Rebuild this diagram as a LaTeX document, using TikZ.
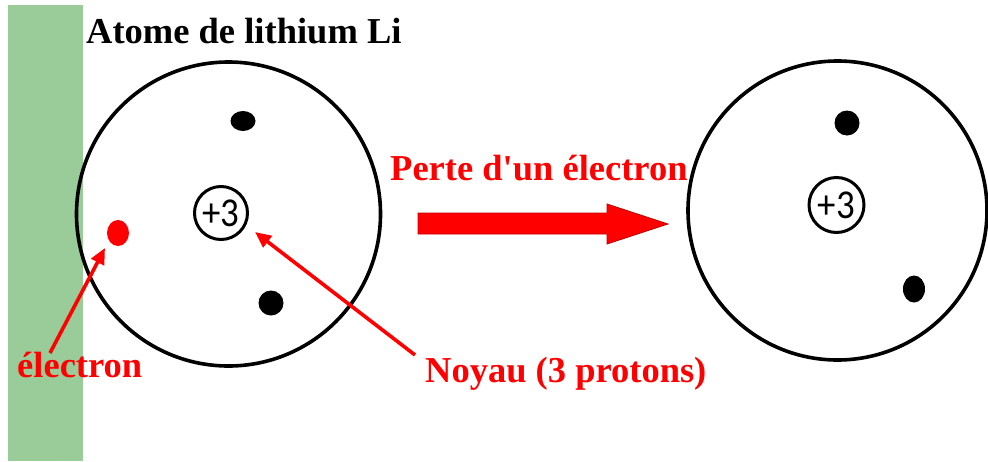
\documentclass[tikz,border=0pt]{standalone}
\usepackage{fontspec}
\setmainfont{Liberation Serif}
\newfontfamily\calfont{Carlito}
\usetikzlibrary{arrows.meta}
\definecolor{bandgreen}{RGB}{153,204,153}
\definecolor{arrowedge}{RGB}{190,0,0}
\tikzset{
  orbit/.style={draw=black, line width=3.6pt, circle, inner sep=0pt},
  nucleus/.style={draw=black, line width=3pt, circle, inner sep=0pt, fill=white, font=\calfont\fontsize{41}{43}\selectfont},
  electronblack/.style={fill=black},
  lbl/.style={font=\bfseries\fontsize{36.5}{40}\selectfont, inner sep=0pt, anchor=base west},
  pointer/.style={draw=red, line width=3.6pt, -{Triangle[length=16pt,width=14pt]}},
}
\begin{document}
\begin{tikzpicture}[x=1pt,y=-1pt]
\useasboundingbox (0,0) rectangle (988,461);
% green band
\fill[bandgreen] (8,5) rectangle (83,461);
% title
\node[lbl, text=black] (title) at (86,43) {Atome de lithium Li};
% left atom
\node[orbit, minimum size=304pt] (atomA) at (228.5,214) {};
\node[nucleus, minimum size=53pt] (nucA) at (221,213) {\scalebox{0.9}[1]{+3}};
\fill[electronblack] (243,121) ellipse [x radius=12.5, y radius=10];
\fill[electronblack] (271,303) circle [radius=12.5];
\fill[red] (118,233) ellipse [x radius=11, y radius=13];
\coordinate (redel) at (118,233);
% right atom
\node[orbit, minimum size=299pt] (atomB) at (837.5,210.5) {};
\node[nucleus, minimum size=55pt] (nucB) at (836.5,205) {\scalebox{0.9}[1]{+3}};
\fill[electronblack] (847,123) circle [radius=12.5];
\fill[electronblack] (914,289) ellipse [x radius=11, y radius=13.5];
% labels
\node[lbl, text=red] (perte) at (390,180) {Perte d\textquotesingle un électron};
\node[lbl, text=red] (noyau) at (425,382) {Noyau (3 protons)};
\node[lbl, text=red] (elec) at (17,377) {électron};
% big arrow
\fill[red, draw=arrowedge, line width=0.8pt]
  (418,213) -- (607,213) -- (607,204) -- (668,224) -- (607,244) -- (607,234) -- (418,234) -- cycle;
% pointers
\coordinate (elecstart) at (50,353);
\coordinate (eleclip) at (105,248);
\coordinate (noyaustart) at (415,355);
\coordinate (noyautip) at (255,232);
\draw[pointer] (elecstart) -- (eleclip);
\draw[pointer] (noyaustart) -- (noyautip);
\end{tikzpicture}
\end{document}
